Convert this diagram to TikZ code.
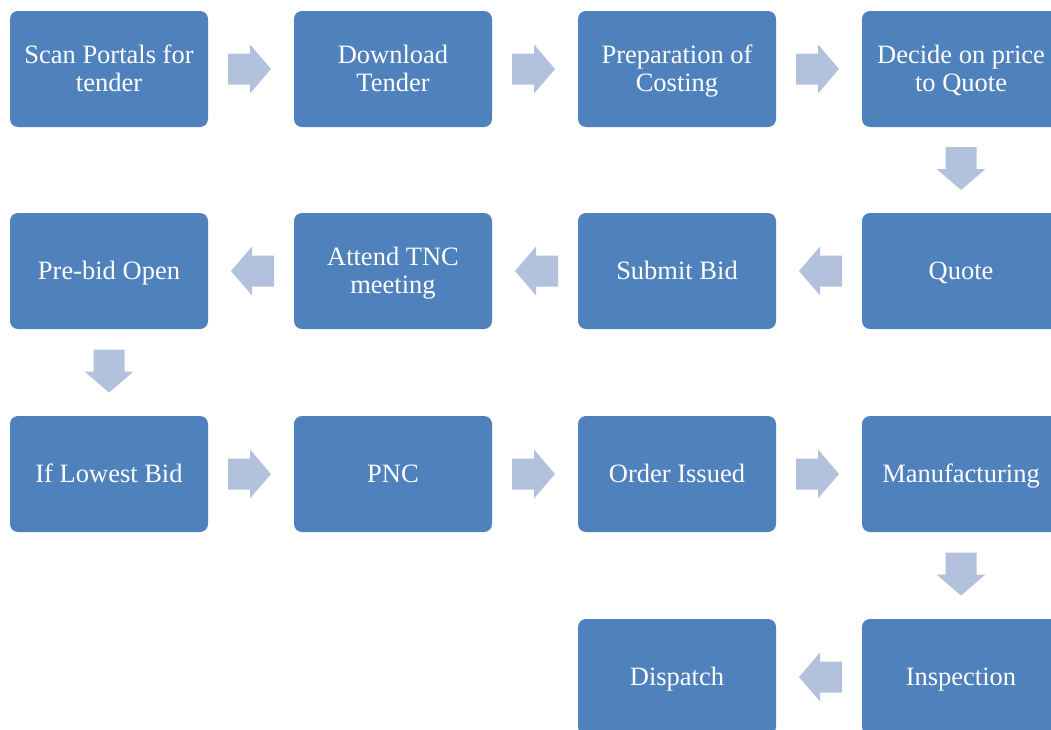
\documentclass[tikz,border=0pt]{standalone}
\usepackage{fontspec}
\setmainfont{Liberation Serif}
\usetikzlibrary{calc}
\definecolor{boxblue}{HTML}{4F81BD}
\definecolor{arrowblue}{HTML}{B3C2DC}
\tikzset{
  stepbox/.style={fill=boxblue, draw=none, rounded corners=8pt, minimum width=198pt, minimum height=116pt,
    inner sep=0pt},
  steptext/.style={text=white, align=center, inner sep=0pt, yshift=-2.7pt,
    font=\fontsize{26.5pt}{28pt}\selectfont},
  blockarrow/.pic={\fill[arrowblue] (-21.5,-15.5) -- (0.5,-15.5) -- (0.5,-24.5) -- (21.5,0)
     -- (0.5,24.5) -- (0.5,15.5) -- (-21.5,15.5) -- cycle;}
}
\newcommand{\stepnode}[3]{\node[stepbox, label={[steptext]center:{#3}}] (#1) at #2 {};}
\begin{document}
\begin{tikzpicture}[x=1pt,y=-1pt]
\useasboundingbox (0,0) rectangle (1051,729);
\clip (0,0) rectangle (1051,729);
\stepnode{n1}{(109,69)}{\strut Scan Portals for\\\strut tender}
\stepnode{n2}{(393,69)}{\strut Download\\\strut Tender}
\stepnode{n3}{(677,69)}{\strut Preparation of\\\strut Costing}
\stepnode{n4}{(961,69)}{\strut Decide on price\\\strut to Quote}
\stepnode{n5}{(961,271)}{\strut Quote}
\stepnode{n6}{(677,271)}{\strut Submit Bid}
\stepnode{n7}{(393,271)}{\strut Attend TNC\\\strut meeting}
\stepnode{n8}{(109,271)}{\strut Pre-bid Open}
\stepnode{n9}{(109,474)}{\strut If Lowest Bid}
\stepnode{n10}{(393,474)}{\strut PNC}
\stepnode{n11}{(677,474)}{\strut Order Issued}
\stepnode{n12}{(961,474)}{\strut Manufacturing}
\stepnode{n13}{(961,677)}{\strut Inspection}
\stepnode{n14}{(677,677)}{\strut Dispatch}
% right arrows
\pic (a1) at ($(n1.east)!0.5!(n2.west)+(-1.5,0)$) {blockarrow};
\pic (a2) at ($(n2.east)!0.5!(n3.west)+(-1.5,0)$) {blockarrow};
\pic (a3) at ($(n3.east)!0.5!(n4.west)+(-1.5,0)$) {blockarrow};
\pic (a9) at ($(n9.east)!0.5!(n10.west)+(-1.5,0)$) {blockarrow};
\pic (a10) at ($(n10.east)!0.5!(n11.west)+(-1.5,0)$) {blockarrow};
\pic (a11) at ($(n11.east)!0.5!(n12.west)+(-1.5,0)$) {blockarrow};
% left arrows
\pic[rotate=180] (a5) at ($(n5.west)!0.5!(n6.east)+(1.5,0)$) {blockarrow};
\pic[rotate=180] (a6) at ($(n6.west)!0.5!(n7.east)+(1.5,0)$) {blockarrow};
\pic[rotate=180] (a7) at ($(n7.west)!0.5!(n8.east)+(1.5,0)$) {blockarrow};
\pic[rotate=180] (a13) at ($(n13.west)!0.5!(n14.east)+(1.5,0)$) {blockarrow};
% down arrows
\pic[rotate=-90] (a4) at ($(n4.south)!0.5!(n5.north)+(0,-1.5)$) {blockarrow};
\pic[rotate=-90] (a8) at ($(n8.south)!0.5!(n9.north)+(0,-1.5)$) {blockarrow};
\pic[rotate=-90] (a12) at ($(n12.south)!0.5!(n13.north)+(0,-1.5)$) {blockarrow};
\end{tikzpicture}
\end{document}
